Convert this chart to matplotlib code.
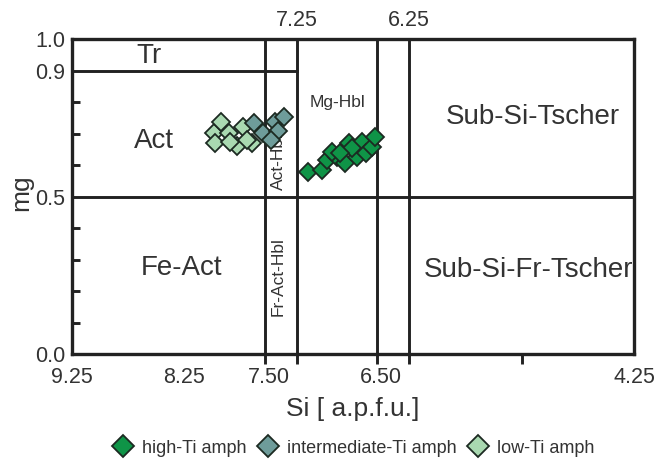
import matplotlib
matplotlib.use("Agg")
import matplotlib.pyplot as plt
from matplotlib.ticker import FixedLocator
from matplotlib.lines import Line2D

plt.rcParams['font.family'] = ['Liberation Sans', 'DejaVu Sans']

# ---- data ----
high_si = [7.15, 7.03, 6.98, 6.89, 6.94, 6.82, 6.79, 6.71, 6.67, 6.63, 6.58, 6.55, 6.76, 6.87]
high_mg = [0.578, 0.584, 0.616, 0.625, 0.641, 0.606, 0.670, 0.625, 0.673, 0.638, 0.657, 0.689, 0.654, 0.638]

inter_si = [7.63, 7.55, 7.44, 7.36, 7.42, 7.48]
inter_mg = [0.733, 0.702, 0.737, 0.752, 0.708, 0.679]

low_si = [7.99, 7.92, 7.85, 7.73, 7.78, 7.65, 7.98, 7.84, 7.69]
low_mg = [0.702, 0.737, 0.702, 0.721, 0.660, 0.670, 0.670, 0.673, 0.679]

bottom_ticks = [9.25, 8.25, 7.50, 6.50, 4.25]
bottom_labels = ["9.25", "8.25", "7.50", "6.50", "4.25"]
top_ticks = [7.25, 6.25]
top_labels = ["7.25", "6.25"]
y_ticks = [0.0, 0.5, 0.9, 1.0]
y_labels = ["0.0", "0.5", "0.9", "1.0"]
y_minor = [0.1, 0.2, 0.3, 0.4, 0.6, 0.7, 0.8]

# field boundaries (Si) as drawn in the diagram
si_bounds = [7.533, 7.25, 6.536, 6.25]
extra_x_marks = [9.25, 8.25, 5.25, 4.25]

series_names = ["high-Ti amph", "intermediate-Ti amph", "low-Ti amph"]
series_colors = ["#0f9447", "#6e9c9a", "#a9d9b1"]

W, H = 662, 461
fig = plt.figure(figsize=(W / 100, H / 100), dpi=100)
ax = fig.add_axes([72 / W, 1 - 354 / H, (634 - 72) / W, (354 - 39) / H])
ax.set_xlim(9.25, 4.25)
ax.set_ylim(0, 1)

lc = "#222222"
tc = "#333333"
for s in ax.spines.values():
    s.set_linewidth(2.4)
    s.set_color(lc)

for xv in si_bounds:
    ax.plot([xv, xv], [0, 1], color=lc, lw=2.1, zorder=2, solid_capstyle='butt')
ax.plot([9.25, 4.25], [0.5, 0.5], color=lc, lw=2.1, zorder=2)
ax.plot([9.25, 7.25], [0.9, 0.9], color=lc, lw=2.1, zorder=2)

# x ticks
ax.set_xticks(bottom_ticks)
ax.set_xticklabels(bottom_labels)
ax.xaxis.set_minor_locator(FixedLocator(si_bounds + extra_x_marks))
ax.tick_params(axis='x', which='major', length=0, labelsize=15.5, pad=9, labelcolor=tc)
ax.tick_params(axis='x', which='minor', direction='out', length=7, width=2.1, colors=lc)

# y ticks
ax.set_yticks(y_ticks)
ax.set_yticklabels(y_labels)
ax.yaxis.set_minor_locator(FixedLocator(y_minor))
ax.tick_params(axis='y', which='major', length=0, labelsize=15.5, pad=5, labelcolor=tc)
ax.tick_params(axis='y', which='minor', direction='in', length=6, width=2.1, colors=lc)

sec = ax.secondary_xaxis('top')
sec.set_xticks(top_ticks)
sec.set_xticklabels(top_labels)
sec.tick_params(length=0, labelsize=15.5, pad=6, labelcolor=tc)
sec.spines['top'].set_visible(False)

ax.set_xlabel("Si [ a.p.f.u.]", fontsize=19, color=tc)
ax.xaxis.set_label_coords(0.5, -0.135)
ax.set_ylabel("mg", fontsize=19, color=tc)
ax.yaxis.set_label_coords(-0.069, 0.511)

# field names
big = 20
ax.text(8.565, 0.946, "Tr", fontsize=big, color=tc, ha='center', va='center')
ax.text(8.52, 0.676, "Act", fontsize=big, color=tc, ha='center', va='center')
ax.text(8.28, 0.273, "Fe-Act", fontsize=big, color=tc, ha='center', va='center')
ax.text(6.89, 0.797, "Mg-Hbl", fontsize=12.5, color=tc, ha='center', va='center')
ax.text(7.415, 0.61, "Act-Hbl", fontsize=12.5, color=tc, ha='center', va='center', rotation=90)
ax.text(7.415, 0.245, "Fr-Act-Hbl", fontsize=12.5, color=tc, ha='center', va='center', rotation=90)
ax.text(5.15, 0.752, "Sub-Si-Tscher", fontsize=big, color=tc, ha='center', va='center')
ax.text(4.26, 0.267, "Sub-Si-Fr-Tscher", fontsize=big, color=tc, ha='right', va='center')

# data
ms = 8.7
ec = "#1c2a22"
for xs, ys, c in [(low_si, low_mg, series_colors[2]),
                  (inter_si, inter_mg, series_colors[1]),
                  (high_si, high_mg, series_colors[0])]:
    ax.plot(xs, ys, linestyle='none', marker='D', ms=ms, mfc=c, mec=ec, mew=1.3, zorder=5)

handles = [Line2D([], [], linestyle='none', marker='D', ms=11, mfc=c, mec=ec, mew=1.3)
           for c in series_colors]
fig.legend(handles, series_names, loc='center', bbox_to_anchor=(353 / W, 1 - 448 / H),
           ncol=3, frameon=False, fontsize=13, handletextpad=0.45, columnspacing=0.6,
           handlelength=1.2, labelcolor=tc, borderpad=0, borderaxespad=0)

fig.savefig("out.png", dpi=100)
